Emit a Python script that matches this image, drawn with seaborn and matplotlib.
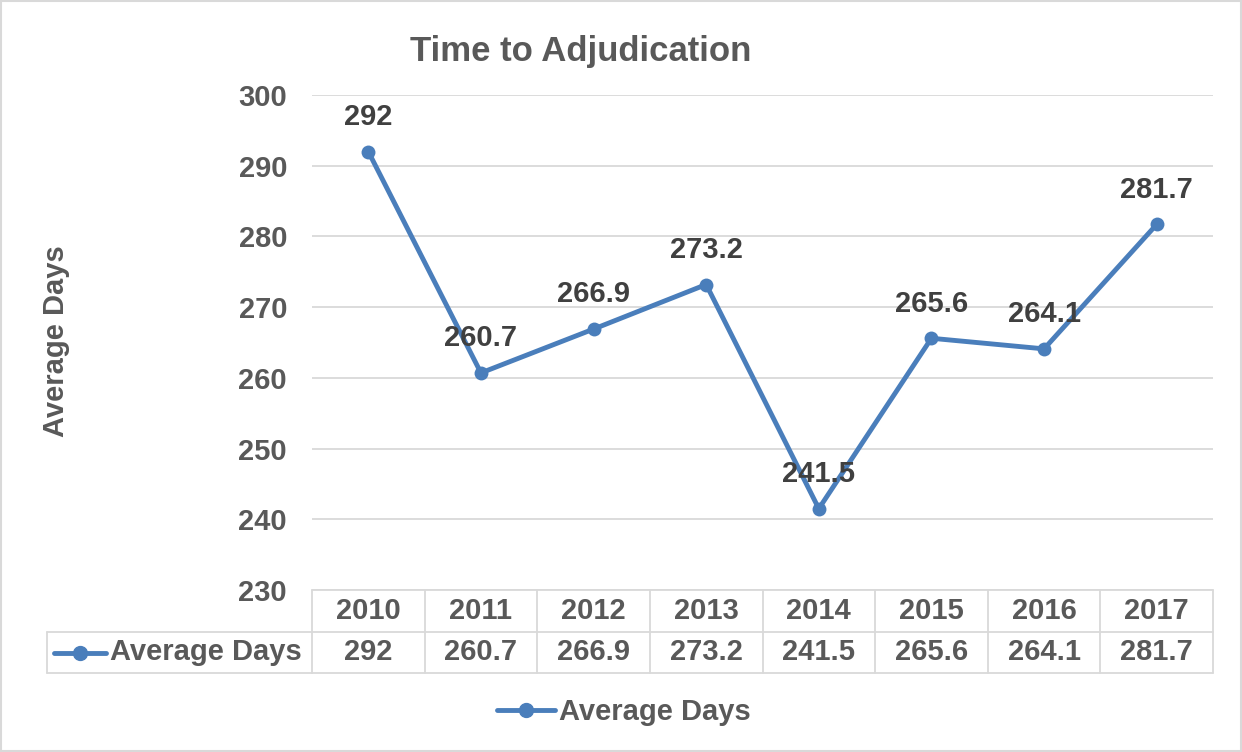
import matplotlib
matplotlib.use("Agg")
import matplotlib.pyplot as plt
import seaborn as sns
import pandas as pd
from matplotlib.lines import Line2D
from matplotlib.patches import Rectangle
import matplotlib.transforms as mtransforms

years = ["2010", "2011", "2012", "2013", "2014", "2015", "2016", "2017"]
avg_days = [292, 260.7, 266.9, 273.2, 241.5, 265.6, 264.1, 281.7]
value_labels = ["292", "260.7", "266.9", "273.2", "241.5", "265.6", "264.1", "281.7"]
y_ticks = [230, 240, 250, 260, 270, 280, 290, 300]
series_name = "Average Days"
title = "Time to Adjudication"

sns.set_theme(style="white")
plt.rcParams['font.family'] = ['Liberation Sans', 'DejaVu Sans']
plt.rcParams['font.weight'] = 'bold'

TXT = "#595959"
LBL = "#404040"
LINE = "#4a7ebb"
GRID = "#d9d9d9"
FS = 21

df = pd.DataFrame({"pos": range(len(years)), "year": years, "value": avg_days})

fig = plt.figure(figsize=(12.42, 7.52), dpi=100)
ax = fig.add_axes([312/1242, 1-590/752, 901/1242, 495/752])

sns.lineplot(data=df, x="pos", y="value", ax=ax, color=LINE, linewidth=3.5,
             marker="o", markersize=10, markeredgewidth=0, zorder=3)

ax.set_xlim(-0.5, len(years) - 0.5)
ax.set_ylim(y_ticks[0], y_ticks[-1])
ax.set_yticks(y_ticks)
ax.set_yticklabels([str(t) for t in y_ticks])
ax.set_xticks([])
ax.set_xlabel("")
ax.set_ylabel("")
ax.tick_params(axis="y", length=0, pad=18, labelsize=FS, labelcolor=TXT)
for lab in ax.get_yticklabels():
    lab.set_fontweight("bold")
ax.grid(axis="y", color=GRID, linewidth=1.3)
ax.set_axisbelow(True)
for s in ax.spines.values():
    s.set_visible(False)

for i, (v, t) in enumerate(zip(avg_days, value_labels)):
    ax.annotate(t, (i, v), xytext=(0, 25), textcoords="offset points",
                ha="center", va="center", fontsize=FS, fontweight="bold", color=LBL, zorder=4)

# data table
trans = mtransforms.blended_transform_factory(ax.transData, ax.transAxes)
h1 = -42/495
h2 = -83/495
left_cell = (47 - 312) / 901
lw = 1.3
ax.plot([-0.5, len(years) - 0.5], [0, 0], transform=trans, color=GRID, lw=lw, clip_on=False, zorder=2)
ax.plot([-0.5, len(years) - 0.5], [h1, h1], transform=trans, color=GRID, lw=lw, clip_on=False)
ax.plot([-0.5, len(years) - 0.5], [h2, h2], transform=trans, color=GRID, lw=lw, clip_on=False)
ax.plot([left_cell, 0], [h1, h1], transform=ax.transAxes, color=GRID, lw=lw, clip_on=False)
ax.plot([left_cell, 0], [h2, h2], transform=ax.transAxes, color=GRID, lw=lw, clip_on=False)
ax.plot([left_cell, left_cell], [h1, h2], transform=ax.transAxes, color=GRID, lw=lw, clip_on=False)
for k in range(len(years) + 1):
    ax.plot([k - 0.5, k - 0.5], [0, h2], transform=trans, color=GRID, lw=lw, clip_on=False)
for i, (yr, t) in enumerate(zip(years, value_labels)):
    ax.text(i, h1 / 2, yr, transform=trans, ha="center", va="center", fontsize=FS,
            fontweight="bold", color=TXT)
    ax.text(i, (h1 + h2) / 2, t, transform=trans, ha="center", va="center", fontsize=FS,
            fontweight="bold", color=TXT)
kx0 = (54 - 312) / 901
kx1 = (106 - 312) / 901
ym = (h1 + h2) / 2
ax.plot([kx0, kx1], [ym, ym], transform=ax.transAxes, color=LINE, lw=3.5, clip_on=False,
        solid_capstyle="round")
ax.plot([(kx0 + kx1) / 2], [ym], transform=ax.transAxes, marker="o", markersize=10,
        color=LINE, clip_on=False)
ax.text((110 - 312) / 901, ym, series_name, transform=ax.transAxes, ha="left", va="center",
        fontsize=FS, fontweight="bold", color=TXT)

fig.text(581/1242, 1-52/752, title, ha="center", va="center", fontsize=25,
         fontweight="bold", color=TXT)
fig.text(56/1242, 1-341/752, series_name, ha="center", va="center", rotation=90,
         fontsize=FS, fontweight="bold", color=TXT)

handle = Line2D([], [], color=LINE, lw=3.5, marker="o", markersize=10)
fig.legend([handle], [series_name], loc="center", bbox_to_anchor=(624/1242, 1-712/752),
           frameon=False, prop={"size": FS, "weight": "bold"}, labelcolor=TXT,
           handlelength=2.0, handletextpad=0.15)

fig.add_artist(Rectangle((0.001, 0.001), 0.998, 0.998, transform=fig.transFigure,
                         fill=False, edgecolor=GRID, lw=1.5))

fig.savefig("out.png", dpi=100, facecolor="white")
